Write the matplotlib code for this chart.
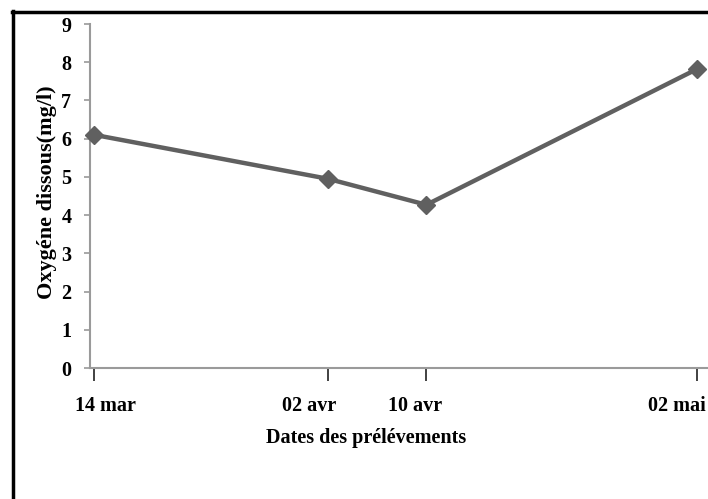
import matplotlib
matplotlib.use("Agg")
import matplotlib.pyplot as plt
import matplotlib.transforms as mtransforms
from matplotlib.lines import Line2D
from datetime import datetime, timedelta

# Data
dates = [datetime(2014, 3, 14), datetime(2014, 4, 2), datetime(2014, 4, 10), datetime(2014, 5, 2)]
date_labels = ["14 mar", "02 avr", "10 avr", "02 mai"]
oxygen = [6.1, 4.95, 4.27, 7.82]
y_ticks = list(range(0, 10))

W, H = 708, 499
fig = plt.figure(figsize=(W / 100, H / 100), dpi=100)
plt.rcParams['font.family'] = ['Liberation Serif', 'DejaVu Serif']

ax_left, ax_right, ax_top, ax_bottom = 90, 708, 24, 368
ax = fig.add_axes([ax_left / W, 1 - ax_bottom / H, (ax_right - ax_left) / W, (ax_bottom - ax_top) / H])

ax.plot(dates, oxygen, color='#606060', lw=3.2, marker='D', ms=9, mfc='#606060', mec='#606060',
        clip_on=False, zorder=5)

ax.set_ylim(0, 9)
ax.set_yticks(y_ticks)
x0 = dates[0] - timedelta(days=0.35)
x1 = dates[0] + timedelta(days=49.9)
ax.set_xlim(x0, x1)
ax.set_xticks(dates)
ax.set_xticklabels(date_labels)

for s in ['top', 'right']:
    ax.spines[s].set_visible(False)
for s in ['left', 'bottom']:
    ax.spines[s].set_color('#9a9a9a')
    ax.spines[s].set_linewidth(1.5)

ax.tick_params(axis='y', direction='out', length=4.5, width=1.2, color='#9a9a9a', pad=9,
               labelsize=14.5)
ax.tick_params(axis='x', direction='out', length=9, width=1.3, color='#333333', pad=11,
               labelsize=14.5)
for lab in ax.get_yticklabels() + ax.get_xticklabels():
    lab.set_fontweight('bold')
    lab.set_color('black')

# per-label horizontal offsets (pixels) as in the reference
offsets = [11, -19, -11, -20]
for lab, dx in zip(ax.get_xticklabels(), offsets):
    lab.set_transform(lab.get_transform() + mtransforms.ScaledTranslation(dx / 100, 0, fig.dpi_scale_trans))

fig.text(366 / W, 1 - 438 / H, "Dates des prélévements", ha='center', va='center',
         fontsize=14.5, fontweight='bold')
fig.text(47 / W, 1 - 192 / H, "Oxygéne dissous(mg/l)", ha='center', va='center',
         rotation=90, fontsize=16, fontweight='bold')

# outer frame (left and top edges visible)
fig.add_artist(Line2D([13 / W, 13 / W], [0, 1 - 11 / H], transform=fig.transFigure, color='black', lw=2.5))
fig.add_artist(Line2D([12 / W, 1], [1 - 12 / H, 1 - 12 / H], transform=fig.transFigure, color='black', lw=2.5))

fig.savefig("out.png", dpi=100)
